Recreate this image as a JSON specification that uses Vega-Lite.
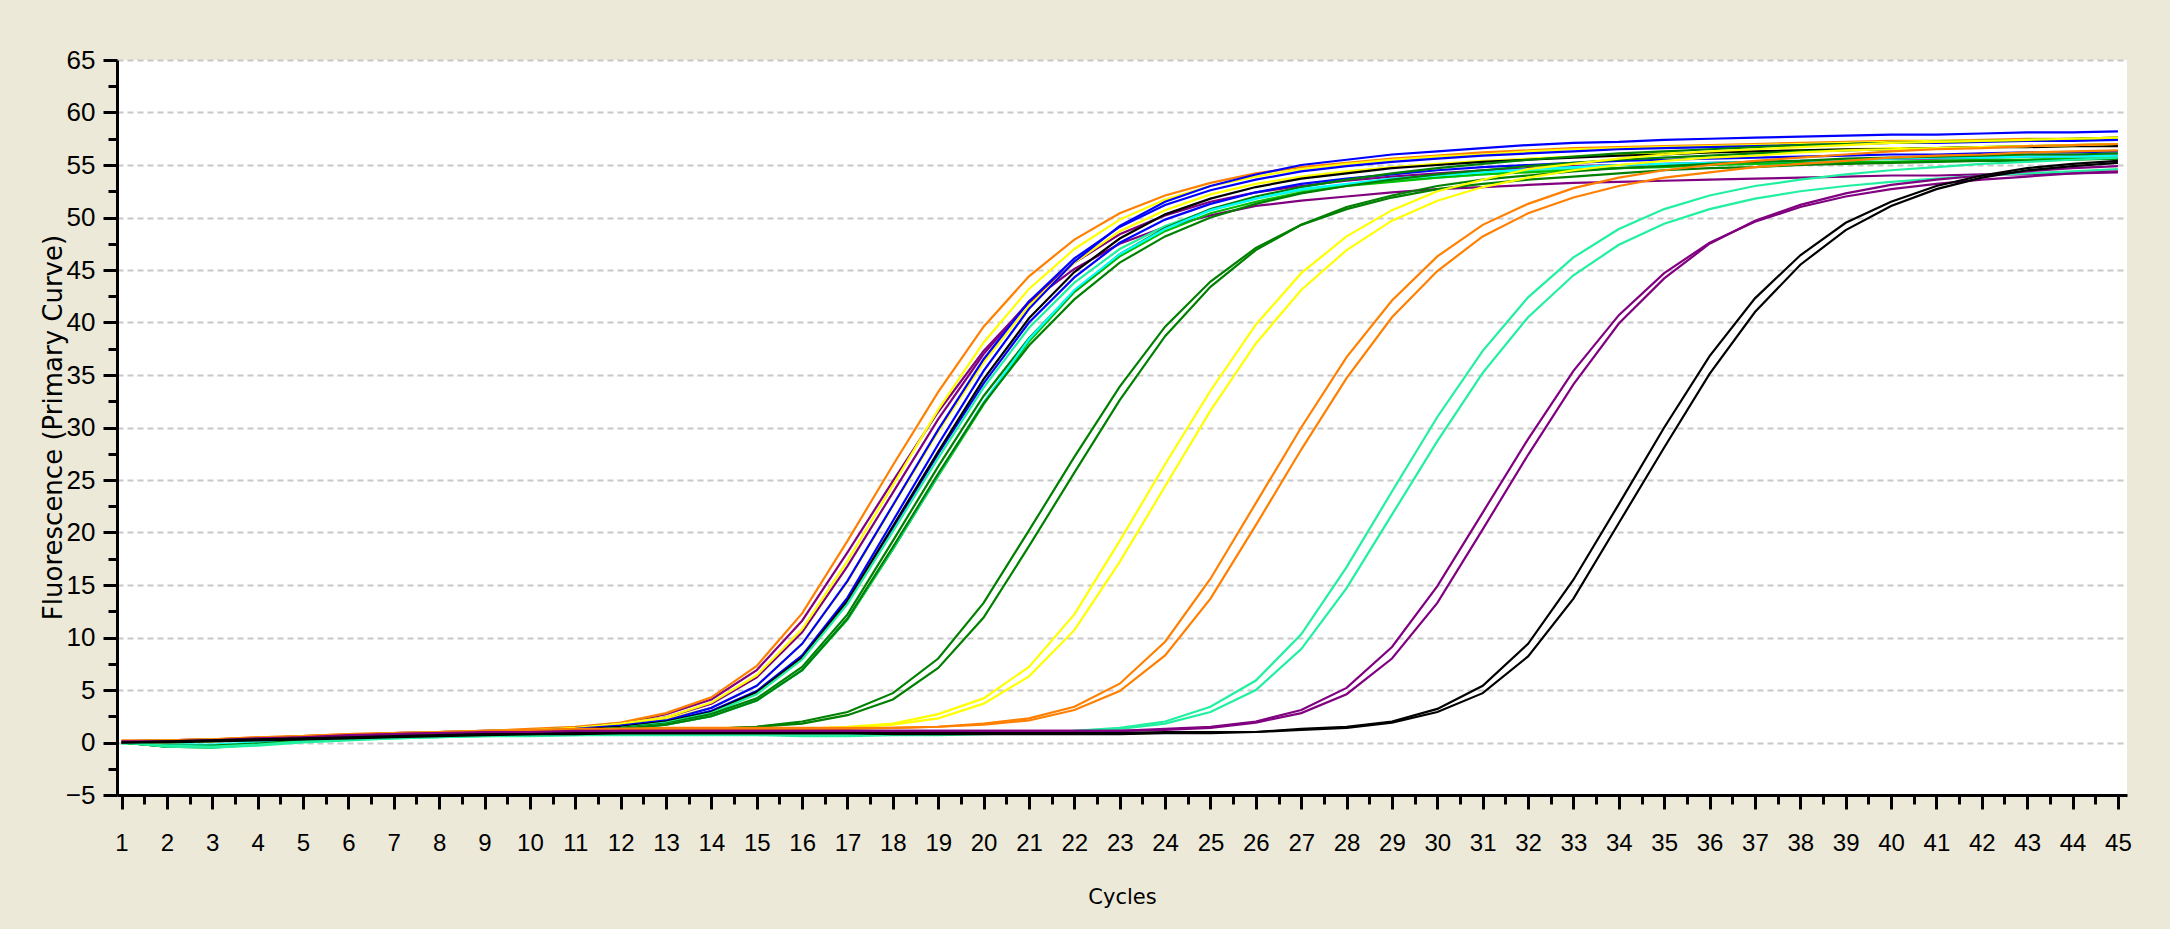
{
 "$schema": "https://vega.github.io/schema/vega-lite/v6.json",
 "width": 2010,
 "height": 735,
 "autosize": {"type": "none"},
 "padding": {"left": 117, "top": 60, "right": 43, "bottom": 134},
 "background": "#ECE9D8",
 "config": {"view": {"fill": "#FFFFFF", "stroke": null}},
 "data": {"values": [
{"c":1,"e1":0.1,"e2":0.2,"e3":0.1,"e4":0.1,"e5":0.1,"e6":0.0,"e7":0.0,"e8":0.0,"e9":0.0,"e10":-0.1,"e11":0.0,"e12":0.0,"e13":0.0,"e14":0.0,"l1":0.0,"l2":0.0,"l3":0.0,"l4":0.0,"l5":0.1,"l6":0.1,"l7":0.0,"l8":0.0,"l9":0.1,"l10":0.0,"l11":0.0,"l12":0.0},
{"c":2,"e1":0.2,"e2":0.2,"e3":0.2,"e4":0.2,"e5":0.1,"e6":0.1,"e7":0.1,"e8":0.1,"e9":0.1,"e10":-0.1,"e11":-0.4,"e12":-0.3,"e13":-0.2,"e14":-0.4,"l1":-0.3,"l2":-0.4,"l3":0.1,"l4":0.0,"l5":0.2,"l6":0.1,"l7":-0.4,"l8":-0.3,"l9":0.1,"l10":0.1,"l11":0.1,"l12":0.0},
{"c":3,"e1":0.3,"e2":0.3,"e3":0.3,"e4":0.3,"e5":0.2,"e6":0.2,"e7":0.2,"e8":0.2,"e9":0.2,"e10":0.1,"e11":-0.4,"e12":-0.4,"e13":-0.2,"e14":-0.5,"l1":-0.3,"l2":-0.4,"l3":0.2,"l4":0.1,"l5":0.3,"l6":0.2,"l7":-0.5,"l8":-0.4,"l9":0.2,"l10":0.2,"l11":0.2,"l12":0.1},
{"c":4,"e1":0.4,"e2":0.5,"e3":0.4,"e4":0.4,"e5":0.4,"e6":0.3,"e7":0.3,"e8":0.3,"e9":0.3,"e10":0.2,"e11":-0.2,"e12":-0.1,"e13":0.0,"e14":-0.2,"l1":-0.1,"l2":-0.2,"l3":0.3,"l4":0.3,"l5":0.5,"l6":0.4,"l7":-0.3,"l8":-0.2,"l9":0.4,"l10":0.3,"l11":0.3,"l12":0.2},
{"c":5,"e1":0.6,"e2":0.6,"e3":0.6,"e4":0.6,"e5":0.5,"e6":0.5,"e7":0.5,"e8":0.5,"e9":0.5,"e10":0.4,"e11":0.1,"e12":0.2,"e13":0.3,"e14":0.1,"l1":0.2,"l2":0.1,"l3":0.5,"l4":0.4,"l5":0.6,"l6":0.5,"l7":0.0,"l8":0.1,"l9":0.5,"l10":0.5,"l11":0.4,"l12":0.3},
{"c":6,"e1":0.7,"e2":0.8,"e3":0.7,"e4":0.7,"e5":0.7,"e6":0.6,"e7":0.6,"e8":0.6,"e9":0.6,"e10":0.5,"e11":0.3,"e12":0.4,"e13":0.5,"e14":0.3,"l1":0.4,"l2":0.3,"l3":0.6,"l4":0.6,"l5":0.8,"l6":0.7,"l7":0.2,"l8":0.3,"l9":0.7,"l10":0.6,"l11":0.5,"l12":0.4},
{"c":7,"e1":0.9,"e2":0.9,"e3":0.9,"e4":0.9,"e5":0.8,"e6":0.8,"e7":0.8,"e8":0.8,"e9":0.8,"e10":0.7,"e11":0.5,"e12":0.6,"e13":0.6,"e14":0.5,"l1":0.6,"l2":0.5,"l3":0.8,"l4":0.7,"l5":0.9,"l6":0.8,"l7":0.4,"l8":0.4,"l9":0.8,"l10":0.8,"l11":0.6,"l12":0.5},
{"c":8,"e1":1.0,"e2":1.0,"e3":1.0,"e4":1.0,"e5":0.9,"e6":0.9,"e7":0.9,"e8":0.9,"e9":0.9,"e10":0.8,"e11":0.6,"e12":0.7,"e13":0.7,"e14":0.6,"l1":0.7,"l2":0.6,"l3":0.9,"l4":0.8,"l5":1.0,"l6":0.9,"l7":0.5,"l8":0.5,"l9":0.9,"l10":0.9,"l11":0.7,"l12":0.6},
{"c":9,"e1":1.1,"e2":1.1,"e3":1.1,"e4":1.1,"e5":1.0,"e6":1.0,"e7":1.0,"e8":1.0,"e9":1.0,"e10":0.9,"e11":0.7,"e12":0.8,"e13":0.8,"e14":0.7,"l1":0.8,"l2":0.7,"l3":1.0,"l4":0.9,"l5":1.1,"l6":1.0,"l7":0.6,"l8":0.6,"l9":1.0,"l10":0.9,"l11":0.8,"l12":0.7},
{"c":10,"e1":1.2,"e2":1.3,"e3":1.2,"e4":1.2,"e5":1.1,"e6":1.1,"e7":1.1,"e8":1.1,"e9":1.1,"e10":1.0,"e11":0.8,"e12":0.9,"e13":0.9,"e14":0.8,"l1":0.9,"l2":0.8,"l3":1.1,"l4":1.0,"l5":1.2,"l6":1.1,"l7":0.7,"l8":0.6,"l9":1.0,"l10":1.0,"l11":0.8,"l12":0.8},
{"c":11,"e1":1.4,"e2":1.5,"e3":1.4,"e4":1.4,"e5":1.3,"e6":1.2,"e7":1.3,"e8":1.2,"e9":1.2,"e10":1.1,"e11":1.0,"e12":1.1,"e13":1.0,"e14":1.0,"l1":1.0,"l2":0.9,"l3":1.1,"l4":1.1,"l5":1.3,"l6":1.2,"l7":0.7,"l8":0.7,"l9":1.1,"l10":1.0,"l11":0.9,"l12":0.8},
{"c":12,"e1":1.8,"e2":1.9,"e3":1.8,"e4":1.8,"e5":1.6,"e6":1.5,"e7":1.6,"e8":1.5,"e9":1.5,"e10":1.4,"e11":1.3,"e12":1.4,"e13":1.3,"e14":1.3,"l1":1.1,"l2":1.0,"l3":1.2,"l4":1.1,"l5":1.3,"l6":1.3,"l7":0.8,"l8":0.7,"l9":1.1,"l10":1.1,"l11":0.9,"l12":0.9},
{"c":13,"e1":2.7,"e2":2.8,"e3":2.4,"e4":2.4,"e5":2.2,"e6":2.0,"e7":2.1,"e8":2.0,"e9":2.0,"e10":1.9,"e11":1.7,"e12":1.8,"e13":1.7,"e14":1.7,"l1":1.2,"l2":1.1,"l3":1.2,"l4":1.2,"l5":1.4,"l6":1.3,"l7":0.8,"l8":0.7,"l9":1.1,"l10":1.1,"l11":0.9,"l12":0.9},
{"c":14,"e1":4.1,"e2":4.3,"e3":3.7,"e4":3.8,"e5":3.3,"e6":3.0,"e7":3.3,"e8":3.0,"e9":2.9,"e10":2.8,"e11":2.5,"e12":2.7,"e13":2.5,"e14":2.5,"l1":1.3,"l2":1.3,"l3":1.2,"l4":1.2,"l5":1.4,"l6":1.3,"l7":0.8,"l8":0.7,"l9":1.1,"l10":1.1,"l11":0.9,"l12":0.9},
{"c":15,"e1":6.9,"e2":7.3,"e3":6.2,"e4":6.4,"e5":5.4,"e6":4.9,"e7":5.4,"e8":4.8,"e9":4.8,"e10":4.6,"e11":4.0,"e12":4.2,"e13":4.0,"e14":4.0,"l1":1.5,"l2":1.5,"l3":1.2,"l4":1.2,"l5":1.4,"l6":1.3,"l7":0.8,"l8":0.7,"l9":1.1,"l10":1.1,"l11":0.9,"l12":0.9},
{"c":16,"e1":11.6,"e2":12.3,"e3":10.5,"e4":10.8,"e5":9.4,"e6":8.3,"e7":9.4,"e8":8.1,"e9":8.1,"e10":7.9,"e11":6.9,"e12":7.2,"e13":6.9,"e14":6.9,"l1":2.0,"l2":1.8,"l3":1.3,"l4":1.2,"l5":1.4,"l6":1.3,"l7":0.7,"l8":0.6,"l9":1.1,"l10":1.1,"l11":0.9,"l12":0.9},
{"c":17,"e1":18.1,"e2":19.2,"e3":16.8,"e4":17.3,"e5":15.3,"e6":13.8,"e7":15.4,"e8":13.4,"e9":13.5,"e10":13.2,"e11":11.7,"e12":12.2,"e13":11.8,"e14":11.8,"l1":2.9,"l2":2.6,"l3":1.5,"l4":1.4,"l5":1.4,"l6":1.3,"l7":0.7,"l8":0.6,"l9":1.1,"l10":1.1,"l11":0.9,"l12":0.9},
{"c":18,"e1":24.9,"e2":26.4,"e3":23.8,"e4":24.5,"e5":22.5,"e6":21.1,"e7":22.6,"e8":20.4,"e9":20.6,"e10":20.1,"e11":18.4,"e12":19.2,"e13":18.5,"e14":18.6,"l1":4.7,"l2":4.1,"l3":1.8,"l4":1.7,"l5":1.4,"l6":1.4,"l7":0.8,"l8":0.7,"l9":1.1,"l10":1.1,"l11":0.8,"l12":0.9},
{"c":19,"e1":31.5,"e2":33.4,"e3":30.8,"e4":31.7,"e5":29.6,"e6":28.4,"e7":29.8,"e8":27.5,"e9":27.7,"e10":27.1,"e11":25.4,"e12":26.3,"e13":25.5,"e14":25.6,"l1":8.0,"l2":7.1,"l3":2.7,"l4":2.3,"l5":1.5,"l6":1.5,"l7":0.8,"l8":0.7,"l9":1.1,"l10":1.1,"l11":0.8,"l12":0.9},
{"c":20,"e1":37.3,"e2":39.6,"e3":37.0,"e4":38.1,"e5":36.2,"e6":35.4,"e7":36.5,"e8":34.2,"e9":34.6,"e10":33.8,"e11":32.2,"e12":33.0,"e13":32.4,"e14":32.3,"l1":13.3,"l2":11.9,"l3":4.2,"l4":3.7,"l5":1.8,"l6":1.7,"l7":0.9,"l8":0.8,"l9":1.1,"l10":1.1,"l11":0.8,"l12":0.9},
{"c":21,"e1":41.9,"e2":44.4,"e3":42.0,"e4":43.2,"e5":41.6,"e6":41.3,"e7":42.0,"e8":40.0,"e9":40.4,"e10":39.5,"e11":38.2,"e12":38.5,"e13":38.4,"e14":37.8,"l1":20.2,"l2":18.7,"l3":7.2,"l4":6.3,"l5":2.3,"l6":2.1,"l7":0.9,"l8":0.9,"l9":1.1,"l10":1.1,"l11":0.8,"l12":0.9},
{"c":22,"e1":45.1,"e2":47.9,"e3":45.7,"e4":47.0,"e5":45.7,"e6":45.8,"e7":46.1,"e8":44.3,"e9":44.8,"e10":43.8,"e11":42.9,"e12":43.0,"e13":43.1,"e14":42.2,"l1":27.2,"l2":25.7,"l3":12.2,"l4":10.7,"l5":3.4,"l6":3.1,"l7":1.1,"l8":1.1,"l9":1.1,"l10":1.1,"l11":0.8,"l12":0.9},
{"c":23,"e1":47.5,"e2":50.4,"e3":48.4,"e4":49.8,"e5":48.7,"e6":49.2,"e7":49.1,"e8":47.6,"e9":48.0,"e10":47.0,"e11":46.3,"e12":46.5,"e13":46.5,"e14":45.7,"l1":33.9,"l2":32.6,"l3":19.2,"l4":17.2,"l5":5.6,"l6":4.9,"l7":1.4,"l8":1.3,"l9":1.1,"l10":1.1,"l11":0.8,"l12":0.9},
{"c":24,"e1":49.1,"e2":52.1,"e3":50.2,"e4":51.7,"e5":50.7,"e6":51.5,"e7":51.2,"e8":49.8,"e9":50.3,"e10":49.2,"e11":48.7,"e12":49.0,"e13":48.9,"e14":48.2,"l1":39.6,"l2":38.7,"l3":26.5,"l4":24.4,"l5":9.6,"l6":8.3,"l7":2.0,"l8":1.8,"l9":1.3,"l10":1.2,"l11":0.9,"l12":1.0},
{"c":25,"e1":50.2,"e2":53.3,"e3":51.5,"e4":53.0,"e5":52.2,"e6":53.0,"e7":52.6,"e8":51.3,"e9":51.8,"e10":50.7,"e11":50.4,"e12":50.8,"e13":50.7,"e14":50.0,"l1":43.9,"l2":43.4,"l3":33.5,"l4":31.6,"l5":15.6,"l6":13.7,"l7":3.4,"l8":2.9,"l9":1.5,"l10":1.4,"l11":0.9,"l12":1.0},
{"c":26,"e1":51.1,"e2":54.2,"e3":52.4,"e4":53.9,"e5":53.2,"e6":54.1,"e7":53.6,"e8":52.4,"e9":52.9,"e10":51.8,"e11":51.5,"e12":52.0,"e13":51.8,"e14":51.3,"l1":47.1,"l2":46.9,"l3":39.8,"l4":38.0,"l5":22.8,"l6":20.7,"l7":5.9,"l8":5.0,"l9":2.0,"l10":1.9,"l11":1.0,"l12":1.0},
{"c":27,"e1":51.6,"e2":54.8,"e3":53.0,"e4":54.6,"e5":53.9,"e6":55.0,"e7":54.4,"e8":53.2,"e9":53.7,"e10":52.6,"e11":52.4,"e12":52.9,"e13":52.7,"e14":52.3,"l1":49.3,"l2":49.3,"l3":44.7,"l4":43.1,"l5":30.0,"l6":27.9,"l7":10.3,"l8":8.9,"l9":3.1,"l10":2.8,"l11":1.3,"l12":1.2},
{"c":28,"e1":52.0,"e2":55.2,"e3":53.5,"e4":55.1,"e5":54.4,"e6":55.5,"e7":54.9,"e8":53.7,"e9":54.2,"e10":53.1,"e11":53.0,"e12":53.6,"e13":53.2,"e14":53.0,"l1":50.8,"l2":51.0,"l3":48.2,"l4":46.9,"l5":36.7,"l6":34.7,"l7":16.7,"l8":14.7,"l9":5.2,"l10":4.6,"l11":1.5,"l12":1.4},
{"c":29,"e1":52.4,"e2":55.6,"e3":53.9,"e4":55.5,"e5":54.8,"e6":56.0,"e7":55.3,"e8":54.1,"e9":54.7,"e10":53.5,"e11":53.4,"e12":54.2,"e13":53.7,"e14":53.6,"l1":51.9,"l2":52.1,"l3":50.7,"l4":49.7,"l5":42.1,"l6":40.5,"l7":23.9,"l8":21.7,"l9":9.1,"l10":8.0,"l11":2.0,"l12":1.9},
{"c":30,"e1":52.7,"e2":55.9,"e3":54.2,"e4":55.8,"e5":55.1,"e6":56.3,"e7":55.6,"e8":54.5,"e9":55.0,"e10":53.8,"e11":53.8,"e12":54.7,"e13":54.0,"e14":54.1,"l1":52.7,"l2":53.0,"l3":52.5,"l4":51.6,"l5":46.3,"l6":44.9,"l7":31.0,"l8":28.7,"l9":14.9,"l10":13.3,"l11":3.2,"l12":2.9},
{"c":31,"e1":52.9,"e2":56.2,"e3":54.5,"e4":56.0,"e5":55.4,"e6":56.6,"e7":55.9,"e8":54.8,"e9":55.3,"e10":54.1,"e11":54.1,"e12":55.1,"e13":54.3,"e14":54.5,"l1":53.2,"l2":53.6,"l3":53.6,"l4":52.9,"l5":49.3,"l6":48.2,"l7":37.3,"l8":35.2,"l9":21.9,"l10":20.3,"l11":5.4,"l12":4.7},
{"c":32,"e1":53.1,"e2":56.4,"e3":54.7,"e4":56.3,"e5":55.6,"e6":56.9,"e7":56.1,"e8":55.0,"e9":55.5,"e10":54.4,"e11":54.3,"e12":55.5,"e13":54.6,"e14":54.9,"l1":53.6,"l2":54.0,"l3":54.6,"l4":53.8,"l5":51.3,"l6":50.4,"l7":42.4,"l8":40.5,"l9":28.9,"l10":27.4,"l11":9.4,"l12":8.2},
{"c":33,"e1":53.3,"e2":56.6,"e3":54.9,"e4":56.5,"e5":55.8,"e6":57.1,"e7":56.3,"e8":55.2,"e9":55.7,"e10":54.6,"e11":54.5,"e12":55.8,"e13":54.8,"e14":55.2,"l1":53.9,"l2":54.4,"l3":55.1,"l4":54.5,"l5":52.8,"l6":51.9,"l7":46.2,"l8":44.5,"l9":35.4,"l10":34.1,"l11":15.5,"l12":13.7},
{"c":34,"e1":53.4,"e2":56.7,"e3":55.0,"e4":56.6,"e5":56.0,"e6":57.2,"e7":56.5,"e8":55.4,"e9":55.9,"e10":54.7,"e11":54.7,"e12":56.1,"e13":55.0,"e14":55.5,"l1":54.2,"l2":54.7,"l3":55.6,"l4":55.0,"l5":53.8,"l6":53.0,"l7":48.9,"l8":47.4,"l9":40.7,"l10":39.9,"l11":22.7,"l12":20.9},
{"c":35,"e1":53.5,"e2":56.8,"e3":55.1,"e4":56.7,"e5":56.1,"e6":57.4,"e7":56.6,"e8":55.5,"e9":56.0,"e10":54.9,"e11":54.8,"e12":56.3,"e13":55.1,"e14":55.7,"l1":54.5,"l2":54.9,"l3":56.0,"l4":55.4,"l5":54.5,"l6":53.8,"l7":50.8,"l8":49.4,"l9":44.7,"l10":44.2,"l11":30.0,"l12":28.1},
{"c":36,"e1":53.6,"e2":56.9,"e3":55.2,"e4":56.8,"e5":56.2,"e6":57.5,"e7":56.7,"e8":55.6,"e9":56.2,"e10":55.0,"e11":55.0,"e12":56.5,"e13":55.2,"e14":55.9,"l1":54.7,"l2":55.1,"l3":56.3,"l4":55.7,"l5":55.0,"l6":54.3,"l7":52.1,"l8":50.8,"l9":47.6,"l10":47.5,"l11":36.8,"l12":35.1},
{"c":37,"e1":53.7,"e2":57.0,"e3":55.3,"e4":56.9,"e5":56.3,"e6":57.6,"e7":56.8,"e8":55.7,"e9":56.3,"e10":55.1,"e11":55.1,"e12":56.7,"e13":55.3,"e14":56.1,"l1":54.8,"l2":55.3,"l3":56.5,"l4":55.9,"l5":55.4,"l6":54.8,"l7":53.0,"l8":51.8,"l9":49.6,"l10":49.7,"l11":42.3,"l12":41.0},
{"c":38,"e1":53.8,"e2":57.1,"e3":55.4,"e4":57.0,"e5":56.4,"e6":57.7,"e7":56.9,"e8":55.8,"e9":56.4,"e10":55.2,"e11":55.2,"e12":56.9,"e13":55.4,"e14":56.3,"l1":55.0,"l2":55.4,"l3":56.7,"l4":56.2,"l5":55.7,"l6":55.1,"l7":53.6,"l8":52.5,"l9":51.0,"l10":51.2,"l11":46.4,"l12":45.5},
{"c":39,"e1":53.9,"e2":57.2,"e3":55.5,"e4":57.1,"e5":56.5,"e6":57.8,"e7":57.0,"e8":55.9,"e9":56.5,"e10":55.3,"e11":55.3,"e12":57.0,"e13":55.5,"e14":56.4,"l1":55.1,"l2":55.6,"l3":56.9,"l4":56.4,"l5":56.0,"l6":55.4,"l7":54.1,"l8":53.0,"l9":52.0,"l10":52.3,"l11":49.5,"l12":48.8},
{"c":40,"e1":54.0,"e2":57.3,"e3":55.6,"e4":57.2,"e5":56.6,"e6":57.9,"e7":57.1,"e8":56.0,"e9":56.5,"e10":55.3,"e11":55.3,"e12":57.1,"e13":55.6,"e14":56.5,"l1":55.2,"l2":55.7,"l3":57.1,"l4":56.5,"l5":56.3,"l6":55.7,"l7":54.5,"l8":53.4,"l9":52.7,"l10":53.1,"l11":51.5,"l12":51.1},
{"c":41,"e1":54.0,"e2":57.3,"e3":55.6,"e4":57.3,"e5":56.6,"e6":57.9,"e7":57.1,"e8":56.0,"e9":56.6,"e10":55.4,"e11":55.4,"e12":57.2,"e13":55.7,"e14":56.6,"l1":55.3,"l2":55.8,"l3":57.2,"l4":56.6,"l5":56.5,"l6":55.9,"l7":54.8,"l8":53.7,"l9":53.2,"l10":53.6,"l11":53.0,"l12":52.7},
{"c":42,"e1":54.1,"e2":57.4,"e3":55.7,"e4":57.3,"e5":56.7,"e6":58.0,"e7":57.2,"e8":56.1,"e9":56.7,"e10":55.5,"e11":55.5,"e12":57.3,"e13":55.7,"e14":56.7,"l1":55.4,"l2":55.9,"l3":57.3,"l4":56.7,"l5":56.6,"l6":56.0,"l7":55.1,"l8":54.0,"l9":53.6,"l10":54.0,"l11":54.0,"l12":53.8},
{"c":43,"e1":54.1,"e2":57.5,"e3":55.8,"e4":57.4,"e5":56.8,"e6":58.1,"e7":57.3,"e8":56.2,"e9":56.7,"e10":55.5,"e11":55.5,"e12":57.4,"e13":55.8,"e14":56.8,"l1":55.4,"l2":56.0,"l3":57.4,"l4":56.8,"l5":56.8,"l6":56.2,"l7":55.3,"l8":54.2,"l9":53.9,"l10":54.4,"l11":54.7,"l12":54.5},
{"c":44,"e1":54.2,"e2":57.5,"e3":55.8,"e4":57.5,"e5":56.8,"e6":58.1,"e7":57.3,"e8":56.2,"e9":56.8,"e10":55.6,"e11":55.6,"e12":57.5,"e13":55.8,"e14":56.9,"l1":55.5,"l2":56.0,"l3":57.5,"l4":56.9,"l5":56.9,"l6":56.3,"l7":55.5,"l8":54.4,"l9":54.2,"l10":54.7,"l11":55.1,"l12":54.9},
{"c":45,"e1":54.3,"e2":57.6,"e3":55.9,"e4":57.5,"e5":56.9,"e6":58.2,"e7":57.4,"e8":56.3,"e9":56.8,"e10":55.6,"e11":55.6,"e12":57.6,"e13":55.9,"e14":57.0,"l1":55.6,"l2":56.1,"l3":57.6,"l4":57.0,"l5":57.0,"l6":56.4,"l7":55.7,"l8":54.6,"l9":54.4,"l10":54.9,"l11":55.4,"l12":55.2}
 ]},
 "transform": [
  {"fold": ["e1","e2","e3","e4","e5","e6","e7","e8","e9","e10","e11","e12","e13","e14","l1","l2","l3","l4","l5","l6","l7","l8","l9","l10","l11","l12"], "as": ["s", "f"]}
 ],
 "mark": {"type": "line", "strokeWidth": 2.2, "clip": true},
 "encoding": {
  "x": {
   "field": "c", "type": "quantitative",
   "scale": {"domain": [0.9, 45.2], "nice": false, "zero": false},
   "axis": {
    "title": "Cycles",
    "values": [1,1.5,2,2.5,3,3.5,4,4.5,5,5.5,6,6.5,7,7.5,8,8.5,9,9.5,10,10.5,11,11.5,12,12.5,13,13.5,14,14.5,15,15.5,16,16.5,17,17.5,18,18.5,19,19.5,20,20.5,21,21.5,22,22.5,23,23.5,24,24.5,25,25.5,26,26.5,27,27.5,28,28.5,29,29.5,30,30.5,31,31.5,32,32.5,33,33.5,34,34.5,35,35.5,36,36.5,37,37.5,38,38.5,39,39.5,40,40.5,41,41.5,42,42.5,43,43.5,44,44.5,45],
    "labelExpr": "datum.value % 1 === 0 ? format(datum.value, 'd') : ''",
    "grid": false,
    "domainColor": "#000000", "domainWidth": 3,
    "tickColor": "#000000", "tickWidth": 3,
    "tickSize": {"condition": {"test": "datum.value % 1 !== 0", "value": 9}, "value": 14},
    "labelFont": "Liberation Sans, Arial, sans-serif",
    "labelFontSize": 24, "labelColor": "#000000", "labelPadding": 22,
    "labelOverlap": false, "labelFlush": false,
    "titleFont": "DejaVu Sans, sans-serif",
    "titleFontSize": 21, "titleFontWeight": "normal", "titleColor": "#000000",
    "titleY": 102, "titleBaseline": "middle"
   }
  },
  "y": {
   "field": "f", "type": "quantitative",
   "scale": {"domain": [-5, 65], "nice": false, "zero": false},
   "axis": {
    "title": "Fluorescence (Primary Curve)",
    "values": [-5,-2.5,0,2.5,5,7.5,10,12.5,15,17.5,20,22.5,25,27.5,30,32.5,35,37.5,40,42.5,45,47.5,50,52.5,55,57.5,60,62.5,65],
    "labelExpr": "datum.value % 5 === 0 ? format(datum.value, 'd') : ''",
    "grid": true, "gridDash": [6, 4], "gridColor": "#C8C8C8", "gridWidth": 2,
    "gridOpacity": {"condition": {"test": "datum.value % 5 !== 0", "value": 0}, "value": 1},
    "domainColor": "#000000", "domainWidth": 3,
    "tickColor": "#000000", "tickWidth": 3,
    "tickSize": {"condition": {"test": "datum.value % 5 !== 0", "value": 9}, "value": 14},
    "labelFont": "Liberation Sans, Arial, sans-serif",
    "labelFontSize": 26, "labelColor": "#000000", "labelPadding": 8,
    "labelOverlap": false, "labelFlush": false,
    "titleFont": "DejaVu Sans, sans-serif",
    "titleFontSize": 26, "titleFontWeight": "normal", "titleColor": "#000000",
    "titleAngle": 270, "titleAlign": "center", "titleBaseline": "middle",
    "titleX": -64, "titleY": 367
   }
  },
  "color": {
   "field": "s", "type": "nominal", "legend": null,
   "scale": {
    "domain": ["e1","e2","e3","e4","e5","e6","e7","e8","e9","e10","e11","e12","e13","e14","l1","l2","l3","l4","l5","l6","l7","l8","l9","l10","l11","l12"],
    "range": ["#800080","#FF8000","#800080","#FFFF00","#FFFF00","#0000FF","#0000FF","#0000FF","#000000","#20F0A0","#00C000","#008000","#00FFFF","#008000","#008000","#008000","#FFFF00","#FFFF00","#FF8000","#FF8000","#20F0A0","#20F0A0","#800080","#800080","#000000","#000000"]
   }
  }
 }
}
